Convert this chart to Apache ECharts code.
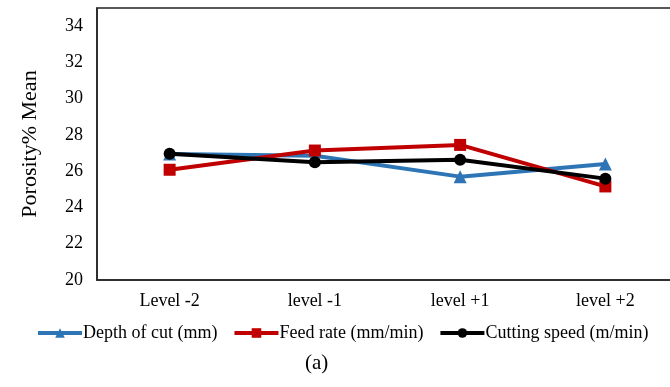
<!DOCTYPE html>
<html>
<head>
<meta charset="utf-8">
<script src="https://cdn.jsdelivr.net/npm/echarts@6/dist/echarts.min.js"></script>
<style>html,body{margin:0;padding:0;background:#fff;overflow:hidden}#c{width:690px;height:387px}</style>
</head>
<body>
<div id="c"></div>
<script>
const categories = ['Level -2', 'level -1', 'level +1', 'level +2'];
const depthOfCut = [26.95, 26.85, 25.7, 26.4];
const feedRate = [26.08, 27.14, 27.45, 25.16];
const cuttingSpeed = [26.96, 26.5, 26.63, 25.59];
const yTicks = { min: 20, max: 35, interval: 2 };

const font = 'Liberation Serif';
const chart = echarts.init(document.getElementById('c'));
chart.setOption({
  animation: false,
  backgroundColor: '#fff',
  textStyle: { fontFamily: font },
  grid: { left: 97, width: 581, top: 8, height: 272, show: true, borderColor: '#222', borderWidth: 1.5, containLabel: false },
  xAxis: {
    type: 'category', data: categories, boundaryGap: true,
    axisLine: { show: true, lineStyle: { color: '#222', width: 1.5 } },
    axisTick: { show: false },
    axisLabel: { fontFamily: font, fontSize: 18, color: '#000', margin: 12 }
  },
  yAxis: {
    type: 'value', min: yTicks.min, max: yTicks.max, interval: yTicks.interval,
    name: 'Porosity% Mean', nameLocation: 'middle', nameGap: 56,
    nameTextStyle: { fontFamily: font, fontSize: 22, color: '#000' },
    axisLine: { show: true, lineStyle: { color: '#222', width: 1.5 } },
    axisTick: { show: false },
    splitLine: { show: false },
    axisLabel: { fontFamily: font, fontSize: 18, color: '#000', margin: 14,
      formatter: v => (v > 34 ? '' : v) }
  },
  legend: {
    left: 31, top: 319, itemWidth: 44, itemHeight: 12, itemGap: 15,
    lineStyle: { width: 4 },
    textStyle: { fontFamily: font, fontSize: 18, color: '#000', padding: [0, 0, 0, -4] },
    data: ['Depth of cut (mm)', 'Feed rate (mm/min)', 'Cutting speed (m/min)']
  },
  graphic: [{ type: 'text', left: 305, top: 353, style: { text: '(a)', font: '21px "Liberation Serif"', fill: '#000' } }],
  series: [
    { name: 'Depth of cut (mm)', type: 'line', data: depthOfCut, symbol: 'triangle', symbolSize: 13,
      itemStyle: { color: '#2E75B6' }, lineStyle: { width: 4, color: '#2E75B6' }, z: 2 },
    { name: 'Feed rate (mm/min)', type: 'line', data: feedRate, symbol: 'rect', symbolSize: 12,
      itemStyle: { color: '#C00000' }, lineStyle: { width: 4, color: '#C00000' }, z: 3 },
    { name: 'Cutting speed (m/min)', type: 'line', data: cuttingSpeed, symbol: 'circle', symbolSize: 12,
      itemStyle: { color: '#000' }, lineStyle: { width: 4, color: '#000' }, z: 4 }
  ]
});
</script>
</body>
</html>
